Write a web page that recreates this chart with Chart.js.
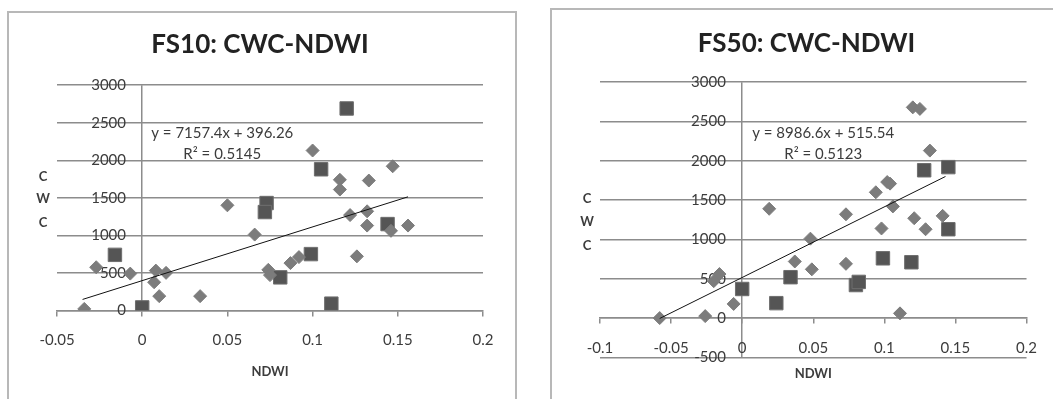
<!DOCTYPE html>
<html>
<head>
<meta charset="utf-8">
<script src="https://cdn.jsdelivr.net/npm/chart.js@4.4.1/dist/chart.umd.min.js"></script>
<style>
  body { margin: 0; background: #fff; width: 1053px; height: 399px; overflow: hidden; position: relative; }
  .panel { position: absolute; border: 2px solid #b8b8b8; }
  #p10 { left: 7px; top: 11px; width: 506px; height: 420px; }
  #p50 { left: 550px; top: 8px; width: 540px; height: 420px; }
  canvas { position: absolute; top: 0; }
  #c10 { left: 0; }
  #c50 { left: 526px; }
</style>
</head>
<body>
<div class="panel" id="p10"></div>
<div class="panel" id="p50"></div>
<canvas id="c10" width="526" height="399"></canvas>
<canvas id="c50" width="527" height="399"></canvas>
<script>
// FS10 points (diamonds and squares)
const fs10DiamondX = [-0.034, -0.027, -0.007, 0.008, 0.014, 0.007, 0.010, 0.034, 0.050, 0.066, 0.074, 0.075, 0.087, 0.092, 0.100, 0.116, 0.116, 0.122, 0.126, 0.133, 0.132, 0.132, 0.147, 0.146, 0.156];
const fs10DiamondY = [20, 575, 490, 530, 500, 375, 190, 190, 1400, 1010, 540, 470, 630, 710, 2130, 1740, 1610, 1270, 720, 1730, 1320, 1130, 1920, 1060, 1130];
const fs10SquareX = [-0.016, 0.000, 0.073, 0.072, 0.081, 0.099, 0.105, 0.120, 0.111, 0.144];
const fs10SquareY = [740, 40, 1430, 1310, 440, 750, 1880, 2690, 90, 1150];
const fs10TrendX = [-0.035, 0.156];
const fs10TrendY = [146, 1513];

// FS50 points
const fs50DiamondX = [-0.058, -0.026, -0.016, -0.020, -0.006, 0.019, 0.037, 0.048, 0.049, 0.073, 0.073, 0.094, 0.102, 0.104, 0.106, 0.098, 0.120, 0.125, 0.132, 0.121, 0.129, 0.141, 0.111];
const fs50DiamondY = [0, 25, 560, 470, 180, 1390, 720, 1010, 620, 1320, 690, 1600, 1730, 1710, 1420, 1140, 2680, 2660, 2130, 1270, 1130, 1300, 60];
const fs50SquareX = [0.000, 0.024, 0.034, 0.080, 0.082, 0.099, 0.119, 0.128, 0.145, 0.145];
const fs50SquareY = [370, 190, 520, 420, 460, 760, 710, 1880, 1920, 1130];
const fs50TrendX = [-0.058, 0.143];
const fs50TrendY = [-5, 1801];

// axis ranges: min, max, step
const fs10XTicks = [-0.05, 0.2, 0.05];
const fs10YTicks = [0, 3000, 500];
const fs50XTicks = [-0.1, 0.2, 0.05];
const fs50YTicks = [-500, 3000, 500];

Chart.defaults.font.family = 'Lato, "Open Sans", sans-serif';
Chart.defaults.color = '#3c3c3c';

const GRID = '#8c8c8c';

function pts(xs, ys) {
  return xs.map((x, i) => ({ x: x, y: ys[i] }));
}

// trendline label and the stacked "C W C" axis title, Excel style
const excelText = {
  id: 'excelText',
  afterDatasetsDraw(chart, args, opts) {
    const ctx = chart.ctx;
    const sx = chart.scales.x, sy = chart.scales.y;
    ctx.save();
    ctx.fillStyle = '#3c3c3c';
    ctx.textAlign = 'center';
    ctx.textBaseline = 'middle';
    ctx.font = '15px Lato';
    opts.eq.forEach((t, i) => {
      ctx.fillText(t, sx.getPixelForValue(opts.eqX), sy.getPixelForValue(opts.eqY[i]));
    });
    ctx.font = 'bold 13px Lato';
    opts.yTitle.forEach((t, i) => {
      ctx.fillText(t, opts.yTitleX, opts.yTitleY[i]);
    });
    ctx.restore();
  }
};

function makeChart(id, o) {
  const ctx = document.getElementById(id).getContext('2d');
  return new Chart(ctx, {
    type: 'scatter',
    data: {
      datasets: [
        {
          label: 'trend',
          type: 'line',
          data: pts(o.trendX, o.trendY),
          borderColor: '#111',
          borderWidth: 1,
          pointRadius: 0,
          fill: false
        },
        {
          label: 'diamond',
          data: pts(o.dX, o.dY),
          pointStyle: 'rectRot',
          pointRadius: 6.5,
          backgroundColor: '#7c7c7c',
          borderColor: '#7c7c7c',
          borderWidth: 1
        },
        {
          label: 'square',
          data: pts(o.sX, o.sY),
          pointStyle: 'rect',
          pointRadius: 9.5,
          backgroundColor: '#555555',
          borderColor: '#6e6e6e',
          borderWidth: 1
        }
      ]
    },
    plugins: [excelText],
    options: {
      responsive: false,
      animation: false,
      layout: { padding: o.pad },
      plugins: {
        legend: { display: false },
        tooltip: { enabled: false },
        title: {
          display: true,
          text: o.title,
          color: '#222',
          font: { size: 26, weight: 'bold' },
          padding: o.titlePad
        },
        subtitle: {
          display: true,
          text: 'NDWI',
          position: 'bottom',
          fullSize: false,
          color: '#3c3c3c',
          font: { size: 13, weight: 'bold' },
          padding: o.subPad
        },
        excelText: o.text
      },
      scales: {
        x: {
          type: 'linear',
          position: { y: 0 },
          min: o.xTicks[0],
          max: o.xTicks[1],
          ticks: {
            stepSize: o.xTicks[2],
            padding: 16,
            font: { size: 15 },
            callback: v => String(Math.round(v * 100) / 100)
          },
          // only the x = 0 line is drawn across the plot (the value axis)
          grid: {
            drawOnChartArea: true,
            drawTicks: true,
            tickLength: 5,
            color: c => (c.tick && Math.abs(c.tick.value) < 1e-9 ? GRID : 'rgba(0,0,0,0)'),
            tickColor: GRID,
            lineWidth: 1.5
          },
          border: { display: true, color: GRID, width: 1.5 }
        },
        y: {
          type: 'linear',
          // labels sit a little left of the x = 0 line
          position: { x: o.yLabelAt },
          min: o.yTicks[0],
          max: o.yTicks[1],
          ticks: {
            stepSize: o.yTicks[2],
            font: { size: 15 },
            callback: v => String(v)
          },
          grid: { drawTicks: false, color: GRID, lineWidth: 1.5 },
          border: { display: false }
        },
        // empty left strip so the title sits a bit left of the plot centre
        gap: {
          type: 'linear',
          axis: 'y',
          position: 'left',
          ticks: { display: false },
          grid: { display: false },
          border: { display: false },
          afterFit: s => { s.width = o.gap; }
        }
      }
    }
  });
}

makeChart('c10', {
  title: 'FS10: CWC-NDWI',
  dX: fs10DiamondX, dY: fs10DiamondY,
  sX: fs10SquareX, sY: fs10SquareY,
  trendX: fs10TrendX, trendY: fs10TrendY,
  xTicks: fs10XTicks, yTicks: fs10YTicks,
  yLabelAt: -0.0095,
  gap: 20,
  pad: { left: 37, right: 43, top: 0, bottom: 0 },
  titlePad: { top: 29, bottom: 25 },
  subPad: { top: 54, bottom: 19 },
  text: {
    eq: ['y = 7157.4x + 396.26', 'R\u00b2 = 0.5145'],
    eqX: 0.047, eqY: [2360, 2080],
    yTitle: ['C', 'W', 'C'], yTitleX: 43, yTitleY: [177, 199, 223]
  }
});

makeChart('c50', {
  title: 'FS50: CWC-NDWI',
  dX: fs50DiamondX, dY: fs50DiamondY,
  sX: fs50SquareX, sY: fs50SquareY,
  trendX: fs50TrendX, trendY: fs50TrendY,
  xTicks: fs50XTicks, yTicks: fs50YTicks,
  yLabelAt: -0.0115,
  gap: 17,
  pad: { left: 57, right: 23, top: 0, bottom: 0 },
  titlePad: { top: 28, bottom: 23 },
  subPad: { top: 9, bottom: 17 },
  text: {
    eq: ['y = 8986.6x + 515.54', 'R\u00b2 = 0.5123'],
    eqX: 0.057, eqY: [2349, 2081],
    yTitle: ['C', 'W', 'C'], yTitleX: 61, yTitleY: [199, 222, 246]
  }
});
</script>
</body>
</html>
